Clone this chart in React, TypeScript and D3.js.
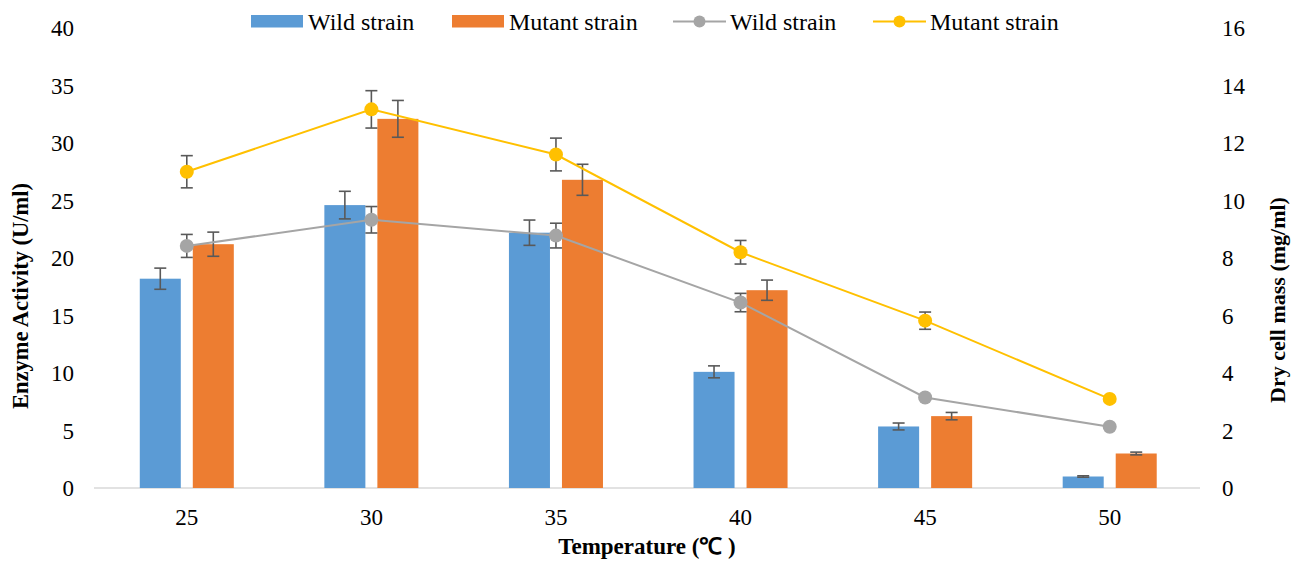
import React from 'react';
import * as d3 from 'd3';

const temps = ['25', '30', '35', '40', '45', '50'];
const wildActivity = [18.2, 24.6, 22.2, 10.1, 5.35, 1.0];
const wildActivityErr = [0.92, 1.2, 1.1, 0.52, 0.3, 0.06];
const mutantActivity = [21.2, 32.1, 26.8, 17.2, 6.25, 3.0];
const mutantActivityErr = [1.05, 1.6, 1.35, 0.88, 0.32, 0.12];
const wildMass = [8.42, 9.33, 8.78, 6.45, 3.15, 2.13];
const wildMassErr = [0.4, 0.46, 0.43, 0.32, 0.05, 0.03];
const mutantMass = [11.0, 13.17, 11.6, 8.2, 5.82, 3.1];
const mutantMassErr = [0.56, 0.65, 0.57, 0.41, 0.3, 0.05];
const leftTicks = [0, 5, 10, 15, 20, 25, 30, 35, 40];
const rightTicks = [0, 2, 4, 6, 8, 10, 12, 14, 16];

const W = 1304;
const H = 563;
const FONT = "Liberation Serif, Times New Roman, serif";
const BLUE = '#5B9BD5';
const ORANGE = '#ED7D31';
const GRAY = '#A5A5A5';
const YELLOW = '#FFC000';
const ERR = '#595959';

function ErrBar({ x, y0, y1 }: { x: number; y0: number; y1: number }) {
  return (
    <g stroke={ERR} strokeWidth={1.6}>
      <line x1={x} x2={x} y1={y0} y2={y1} />
      <line x1={x - 6} x2={x + 6} y1={y0} y2={y0} />
      <line x1={x - 6} x2={x + 6} y1={y1} y2={y1} />
    </g>
  );
}

export default function App() {
  const x = d3.scaleBand().domain(temps).range([94.5, 1202]);
  const inner = d3.scaleBand().domain(['wild', 'mutant']).range([0, x.bandwidth()])
    .paddingInner(0.2264).paddingOuter(0.854);
  const yL = d3.scaleLinear().domain([0, 40]).range([488, 28]);
  const yR = d3.scaleLinear().domain([0, 16]).range([488, 28]);
  const cx = (t: string) => (x(t) as number) + x.bandwidth() / 2;

  const lineGen = d3.line<number>().x((_, i) => cx(temps[i])).y(d => yR(d));

  const bars = [
    { key: 'wild', vals: wildActivity, errs: wildActivityErr, color: BLUE },
    { key: 'mutant', vals: mutantActivity, errs: mutantActivityErr, color: ORANGE },
  ];
  const lines = [
    { vals: wildMass, errs: wildMassErr, color: GRAY },
    { vals: mutantMass, errs: mutantMassErr, color: YELLOW },
  ];

  // legend entries, swatch x positions
  const legend = [
    { kind: 'bar', color: BLUE, label: 'Wild strain', x: 251 },
    { kind: 'bar', color: ORANGE, label: 'Mutant strain', x: 452 },
    { kind: 'line', color: GRAY, label: 'Wild strain', x: 673 },
    { kind: 'line', color: YELLOW, label: 'Mutant strain', x: 873 },
  ];

  return (
    <svg width={W} height={H} style={{ position: 'absolute', left: 0, top: 0, background: '#fff' }}
      fontFamily={FONT}>
      <line x1={94} x2={1200} y1={yL(0)} y2={yL(0)} stroke="#D9D9D9" strokeWidth={1.5} />

      {bars.map(s => (
        <g key={s.key}>
          {s.vals.map((v, i) => {
            const bx = (x(temps[i]) as number) + (inner(s.key) as number);
            return (
              <rect key={i} x={bx} width={inner.bandwidth()} y={yL(v)} height={yL(0) - yL(v)}
                fill={s.color} />
            );
          })}
          {s.vals.map((v, i) => {
            const bx = (x(temps[i]) as number) + (inner(s.key) as number) + inner.bandwidth() / 2;
            return <ErrBar key={i} x={bx} y0={yL(v + s.errs[i])} y1={yL(v - s.errs[i])} />;
          })}
        </g>
      ))}

      {lines.map((s, k) => (
        <g key={k}>
          <path d={lineGen(s.vals) || ''} fill="none" stroke={s.color} strokeWidth={2} />
          {s.vals.map((v, i) => (
            <ErrBar key={i} x={cx(temps[i])} y0={yR(v + s.errs[i])} y1={yR(v - s.errs[i])} />
          ))}
          {s.vals.map((v, i) => (
            <circle key={i} cx={cx(temps[i])} cy={yR(v)} r={7} fill={s.color} />
          ))}
        </g>
      ))}

      {leftTicks.map(t => (
        <text key={t} x={74} y={yL(t)} dy="0.35em" textAnchor="end" fontSize={23} fill="#000">{t}</text>
      ))}
      {rightTicks.map(t => (
        <text key={t} x={1222} y={yR(t)} dy="0.35em" textAnchor="start" fontSize={23} fill="#000">{t}</text>
      ))}
      {temps.map(t => (
        <text key={t} x={cx(t)} y={525} textAnchor="middle" fontSize={23} fill="#000">{t}</text>
      ))}

      <text x={647} y={554} textAnchor="middle" fontSize={23} fontWeight="bold">Temperature (℃ )</text>
      <text transform="translate(28,296) rotate(-90)" textAnchor="middle" fontSize={22.5} fontWeight="bold">
        Enzyme Activity (U/ml)
      </text>
      <text transform="translate(1285,300) rotate(-90)" textAnchor="middle" fontSize={22} fontWeight="bold">
        Dry cell mass (mg/ml)
      </text>

      <g fontSize={24}>
        {legend.map((l, i) => (
          <g key={i}>
            {l.kind === 'bar' ? (
              <rect x={l.x} y={15} width={52} height={12.5} fill={l.color} />
            ) : (
              <>
                <line x1={l.x} x2={l.x + 53} y1={21.5} y2={21.5} stroke={l.color} strokeWidth={2} />
                <circle cx={l.x + 26.5} cy={21.5} r={6} fill={l.color} />
              </>
            )}
            <text x={l.x + 57} y={30}>{l.label}</text>
          </g>
        ))}
      </g>
    </svg>
  );
}
